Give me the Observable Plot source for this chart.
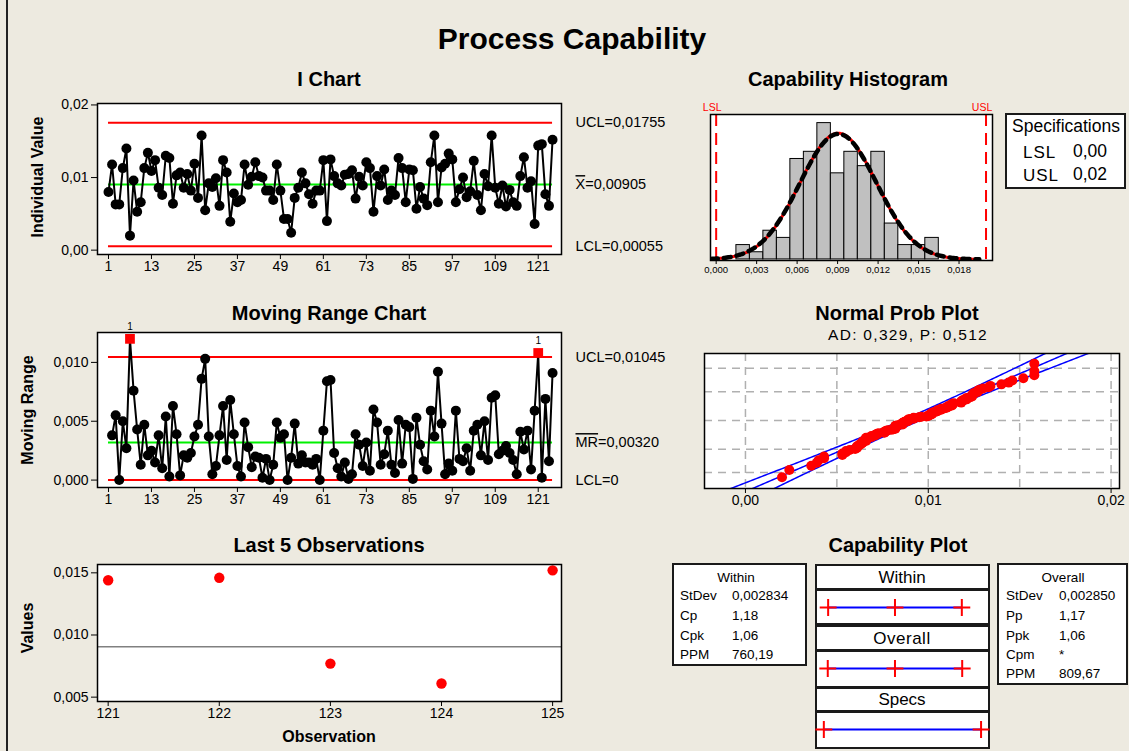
<!DOCTYPE html>
<html><head><meta charset="utf-8">
<script src="https://cdn.jsdelivr.net/npm/d3@7"></script>
<script src="https://cdn.jsdelivr.net/npm/@observablehq/plot@0.6"></script>
<style>
html,body{margin:0;padding:0;background:#EDEAE0;}
#fig{position:relative;width:1129px;height:751px;overflow:hidden;background:#EDEAE0;font-family:'Liberation Sans',Arial,sans-serif;color:#000;}
.t{position:absolute;white-space:nowrap;transform:translate(-50%,-50%);line-height:1;}
.l{position:absolute;white-space:nowrap;transform:translate(0,-50%);line-height:1;}
.b{font-weight:bold;}
.box{position:absolute;background:#fff;border:2px solid #1a1a1a;box-sizing:border-box;}
</style></head><body><div id="fig"></div>
<script>
// ---------------- DATA ----------------
const iValues = [
0.0080,0.0118,0.0063,0.0063,0.0113,0.0140,0.0020,0.0096,0.0053,0.0066,
0.0113,0.0134,0.0109,0.0124,0.0086,0.0076,0.0130,0.0127,0.0064,0.0103,
0.0107,0.0086,0.0105,0.0082,0.0119,0.0072,0.0158,0.0055,0.0092,0.0087,
0.0099,0.0061,0.0124,0.0107,0.0039,0.0078,0.0066,0.0069,0.0118,0.0090,
0.0101,0.0121,0.0102,0.0100,0.0082,0.0082,0.0069,0.0118,0.0082,0.0043,
0.0043,0.0024,0.0072,0.0086,0.0107,0.0092,0.0077,0.0064,0.0082,0.0082,
0.0124,0.0040,0.0125,0.0102,0.0092,0.0089,0.0104,0.0105,0.0110,0.0071,
0.0101,0.0089,0.0121,0.0113,0.0053,0.0102,0.0089,0.0111,0.0069,0.0082,
0.0076,0.0127,0.0113,0.0066,0.0111,0.0110,0.0057,0.0087,0.0071,0.0062,
0.0121,0.0158,0.0066,0.0114,0.0119,0.0133,0.0125,0.0066,0.0084,0.0100,
0.0073,0.0081,0.0123,0.0076,0.0055,0.0105,0.0088,0.0158,0.0086,0.0064,
0.0089,0.0060,0.0083,0.0066,0.0061,0.0102,0.0128,0.0086,0.0095,0.0036,
0.0144,0.0146,0.0077,0.0061,0.0152];
const obsTicks = [1,13,25,37,49,61,73,85,97,109,121];
const iMean = 0.00905, iUCL = 0.01755, iLCL = 0.00055;
const mrMean = 0.00320, mrUCL = 0.01045, mrLCL = 0;
const iLimitLabels = [{v:iUCL,t:"UCL=0,01755"},{v:iMean,t:"X=0,00905"},{v:iLCL,t:"LCL=0,00055"}];
const mrLimitLabels = [{v:mrUCL,t:"UCL=0,01045"},{v:mrMean,t:"MR=0,00320"},{v:mrLCL,t:"LCL=0"}];
const last5Obs = [121,122,123,124,125];
const histBinStart = [0.0015,0.0025,0.0035,0.0045,0.0055,0.0065,0.0075,0.0085,0.0095,0.0105,0.0115,0.0125,0.0135,0.0145,0.0155];
const histCounts = [2,1,4,3,14,15,19,12,15,13,15,5,2,2,3];
const binWidth = 0.001;
const histTicks = [0,0.003,0.006,0.009,0.012,0.015,0.018];
const LSL = 0, USL = 0.02;
const stdevWithin = 0.002834, stdevOverall = 0.002850;
const probGrid = [0.01,0.10,0.50,0.90,0.99];
const withinStats = [["StDev","0,002834"],["Cp","1,18"],["Cpk","1,06"],["PPM","760,19"]];
const overallStats = [["StDev","0,002850"],["Pp","1,17"],["Ppk","1,06"],["Cpm","*"],["PPM","809,67"]];
const capNames = ["Within","Overall","Specs"];

// ---------------- helpers ----------------
const fig = document.getElementById("fig");
const fmt = k => d => d.toFixed(k).replace(".", ",");
const sty = fs => ({background:"transparent",fontFamily:"'Liberation Sans', Arial, sans-serif",fontSize:fs+"px",color:"#000",overflow:"visible"});
function addSvg(svg, left, top){svg.style.position="absolute";svg.style.left=left+"px";svg.style.top=top+"px";fig.appendChild(svg);return svg;}
function addText(txt,x,y,cls,extra){const d=document.createElement("div");d.className=cls;d.textContent=txt;d.style.left=x+"px";d.style.top=y+"px";if(extra)Object.assign(d.style,extra);fig.appendChild(d);return d;}
function addBox(l,t,w,h){const d=document.createElement("div");d.className="box";Object.assign(d.style,{left:l+"px",top:t+"px",width:w+"px",height:h+"px"});fig.appendChild(d);return d;}
function overline(svg,prefix){d3.select(svg).selectAll("text").each(function(){const t=this.textContent;if(t.startsWith(prefix+"=")){const el=d3.select(this);el.text(null);el.append("tspan").style("text-decoration","overline").text(prefix);el.append("tspan").text(t.slice(prefix.length));}});}
function invNorm(p){const a=[-3.969683028665376e+01,2.209460984245205e+02,-2.759285104469687e+02,1.383577518672690e+02,-3.066479806614716e+01,2.506628277459239e+00];const b=[-5.447609879822406e+01,1.615858368580409e+02,-1.556989798598866e+02,6.680131188771972e+01,-1.328068155288572e+01];const c=[-7.784894002430293e-03,-3.223964580411365e-01,-2.400758277161838e+00,-2.549732539343734e+00,4.374664141464968e+00,2.938163982698783e+00];const d=[7.784695709041462e-03,3.224671290700398e-01,2.445134137142996e+00,3.754408661907416e+00];const pl=0.02425;let q,r;if(p<pl){q=Math.sqrt(-2*Math.log(p));return (((((c[0]*q+c[1])*q+c[2])*q+c[3])*q+c[4])*q+c[5])/((((d[0]*q+d[1])*q+d[2])*q+d[3])*q+1);}if(p<=1-pl){q=p-0.5;r=q*q;return (((((a[0]*r+a[1])*r+a[2])*r+a[3])*r+a[4])*r+a[5])*q/(((((b[0]*r+b[1])*r+b[2])*r+b[3])*r+b[4])*r+1);}q=Math.sqrt(-2*Math.log(1-p));return -(((((c[0]*q+c[1])*q+c[2])*q+c[3])*q+c[4])*q+c[5])/((((d[0]*q+d[1])*q+d[2])*q+d[3])*q+1);}
const pdf=(x,m,s)=>Math.exp(-0.5*((x-m)/s)**2)/(s*Math.sqrt(2*Math.PI));

const n = iValues.length;
const iData = iValues.map((v,i)=>({obs:i+1,v}));
const mrData = iValues.slice(1).map((v,i)=>({obs:i+2,v:Math.abs(v-iValues[i])}));
const mrIn = mrData.filter(d=>d.v<=mrUCL), mrOut = mrData.filter(d=>d.v>mrUCL);

// figure border
const bl=document.createElement("div");Object.assign(bl.style,{position:"absolute",left:"6px",top:"0px",width:"2px",height:"751px",background:"#222"});fig.appendChild(bl);

// ---------------- titles ----------------
addText("Process Capability",572,39,"t b",{fontSize:"30px"});
addText("I Chart",329,79,"t b",{fontSize:"20px"});
addText("Moving Range Chart",329,313,"t b",{fontSize:"20px"});
addText("Last 5 Observations",329,545,"t b",{fontSize:"20px"});
addText("Capability Histogram",848,79,"t b",{fontSize:"20px"});
addText("Normal Prob Plot",897,313,"t b",{fontSize:"20px"});
addText("AD: 0,329, P: 0,512",908,335,"t",{fontSize:"15.5px",letterSpacing:"1.3px"});
addText("Capability Plot",898,545,"t b",{fontSize:"20px"});
addText("Individual Value",38,177,"t b",{fontSize:"16px",transform:"translate(-50%,-50%) rotate(-90deg)"});
addText("Moving Range",28,410,"t b",{fontSize:"16px",transform:"translate(-50%,-50%) rotate(-90deg)"});
addText("Values",28,628,"t b",{fontSize:"16px",transform:"translate(-50%,-50%) rotate(-90deg)"});
addText("Observation",329,737,"t b",{fontSize:"16px"});

// ---------------- I chart ----------------
const iChart = Plot.plot({
  width:680,height:200,marginLeft:97,marginRight:119,marginTop:13,marginBottom:36,style:sty(14),
  x:{domain:[-2.07,127.5],ticks:obsTicks,tickFormat:d=>String(d),tickSize:5,tickPadding:2,label:null},
  y:{domain:[-0.0006,0.0202],ticks:[0,0.01,0.02],tickFormat:fmt(2),tickSize:6,tickPadding:3,label:null},
  marks:[
    Plot.frame({fill:"white",stroke:"none"}),
    Plot.ruleY([iUCL,iLCL],{x1:1,x2:125,stroke:"#FF0000",strokeWidth:2}),
    Plot.ruleY([iMean],{x1:1,x2:125,stroke:"#00F000",strokeWidth:2}),
    Plot.line(iData,{x:"obs",y:"v",stroke:"#000",strokeWidth:2}),
    Plot.dot(iData,{x:"obs",y:"v",r:5,fill:"#000",stroke:"none"}),
    Plot.frame({stroke:"#000",strokeWidth:1.5}),
    Plot.text(iLimitLabels,{y:"v",text:"t",frameAnchor:"right",textAnchor:"start",dx:14,fontSize:14.5})
  ]
});
overline(iChart,"X");
addSvg(iChart,0,90);

// ---------------- MR chart ----------------
const mrChart = Plot.plot({
  width:680,height:195,marginLeft:97,marginRight:119,marginTop:12,marginBottom:28,style:sty(14),
  x:{domain:[-2.07,127.5],ticks:obsTicks,tickFormat:d=>String(d),tickSize:5,tickPadding:2,label:null},
  y:{domain:[-0.00063,0.01254],ticks:[0,0.005,0.01],tickFormat:fmt(3),tickSize:6,tickPadding:3,label:null},
  marks:[
    Plot.frame({fill:"white",stroke:"none"}),
    Plot.ruleY([mrUCL,mrLCL],{x1:1,x2:125,stroke:"#FF0000",strokeWidth:2}),
    Plot.ruleY([mrMean],{x1:1,x2:125,stroke:"#00F000",strokeWidth:2}),
    Plot.line(mrData,{x:"obs",y:"v",stroke:"#000",strokeWidth:2}),
    Plot.dot(mrIn,{x:"obs",y:"v",r:5,fill:"#000",stroke:"none"}),
    Plot.dot(mrOut,{x:"obs",y:"v",symbol:"square",r:5.5,fill:"#FF0000",stroke:"none"}),
    Plot.text(mrOut,{x:"obs",y:"v",text:()=>"1",dy:-12,fontSize:10}),
    Plot.frame({stroke:"#000",strokeWidth:1.5}),
    Plot.text(mrLimitLabels,{y:"v",text:"t",frameAnchor:"right",textAnchor:"start",dx:14,fontSize:14.5})
  ]
});
overline(mrChart,"MR");
addSvg(mrChart,0,320);

// ---------------- Last 5 ----------------
const last5 = last5Obs.map((o,i)=>({obs:o,v:iValues[n-5+i]}));
const l5 = Plot.plot({
  width:680,height:201,marginLeft:97,marginRight:119,marginTop:14,marginBottom:50,style:sty(14),
  x:{domain:[120.904,125.08],ticks:last5Obs,tickFormat:d=>String(d),tickSize:5,tickPadding:2,label:null},
  y:{domain:[0.00465,0.01567],ticks:[0.005,0.01,0.015],tickFormat:fmt(3),tickSize:6,tickPadding:3,label:null},
  marks:[
    Plot.frame({fill:"white",stroke:"none"}),
    Plot.ruleY([iMean],{stroke:"#808080",strokeWidth:1.5}),
    Plot.dot(last5,{x:"obs",y:"v",r:5.2,fill:"#FF0000",stroke:"none"}),
    Plot.frame({stroke:"#000",strokeWidth:1.5})
  ]
});
addSvg(l5,0,550);

// ---------------- Capability Histogram ----------------
const histData = histBinStart.map((s,i)=>({lo:s,hi:s+binWidth,count:histCounts[i]}));
const xs = d3.range(-0.0004,0.01951,0.0001);
const withinCurve = xs.map(x=>({x,y:n*binWidth*pdf(x,iMean,stdevWithin)}));
const overallCurve = xs.map(x=>({x,y:n*binWidth*pdf(x,iMean,stdevOverall)}));
const specLabels = [{x:LSL,t:"LSL"},{x:USL,t:"USL"}];
const hist = Plot.plot({
  width:310,height:190,marginLeft:20,marginRight:8,marginTop:19,marginBottom:25,style:sty(9.5),
  x:{domain:[-0.00042,0.02048],ticks:histTicks,tickFormat:fmt(3),tickSize:4,tickPadding:2,label:null},
  y:{domain:[-0.15,20.2],axis:null},
  marks:[
    Plot.frame({fill:"white",stroke:"none"}),
    Plot.rectY(histData,{x1:"lo",x2:"hi",y:"count",fill:"#C0C0C0",stroke:"#000",strokeWidth:1,inset:0}),
    Plot.ruleX([LSL,USL],{stroke:"#FF0000",strokeWidth:2,strokeDasharray:"12,7"}),
    Plot.line(withinCurve,{x:"x",y:"y",stroke:"#FF0000",strokeWidth:3,clip:true}),
    Plot.line(overallCurve,{x:"x",y:"y",stroke:"#000",strokeWidth:4.5,strokeDasharray:"7,6",clip:true}),
    Plot.frame({stroke:"#000",strokeWidth:1.5}),
    Plot.text(specLabels,{x:"x",text:"t",frameAnchor:"top",dy:-11,dx:-4,fill:"#FF0000",fontSize:10.5})
  ]
});
addSvg(hist,690,95);

// Specifications box
addBox(1005,113,121,76);
addText("Specifications",1012,127,"l",{fontSize:"17.5px"});
addText("LSL",1023,152,"l",{fontSize:"17px",letterSpacing:"1px"});
addText("0,00",1073,152,"l",{fontSize:"17.5px"});
addText("USL",1023,175,"l",{fontSize:"17px",letterSpacing:"1px"});
addText("0,02",1073,175,"l",{fontSize:"17.5px"});

// ---------------- Normal Prob Plot ----------------
const sorted = [...iValues].sort(d3.ascending);
const npData = sorted.map((v,i)=>({v,z:invNorm((i+1-0.3)/(n+0.4))}));
const gridZ = probGrid.map(invNorm);
const zs = d3.range(-3.4,3.41,0.05);
const bandData = zs.flatMap(z=>{const fit=iMean+z*stdevOverall;const h=1.96*stdevOverall*Math.sqrt(1/n+z*z/(2*(n-1)));return [{k:"lo",z,x:fit-h},{k:"fit",z,x:fit},{k:"hi",z,x:fit+h}];});
const np = Plot.plot({
  width:440,height:175,marginLeft:14,marginRight:11,marginTop:13,marginBottom:27,style:sty(14),
  x:{domain:[-0.00224,0.02046],ticks:[0,0.01,0.02],tickFormat:fmt(2),tickSize:5,tickPadding:2,label:null},
  y:{domain:[-3.04,2.99],axis:null},
  marks:[
    Plot.frame({fill:"white",stroke:"none"}),
    Plot.ruleX([0,0.005,0.01,0.015,0.02],{stroke:"#B0B0B0",strokeWidth:1.5,strokeDasharray:"8,6"}),
    Plot.ruleY(gridZ,{stroke:"#B0B0B0",strokeWidth:1.5,strokeDasharray:"8,6"}),
    Plot.line(bandData,{x:"x",y:"z",z:"k",stroke:"#0000FF",strokeWidth:1.5,clip:true}),
    Plot.dot(npData,{x:"v",y:"z",r:5,fill:"#FF0000",stroke:"none"}),
    Plot.frame({stroke:"#000",strokeWidth:1.5})
  ]
});
addSvg(np,690,340);

// ---------------- Capability Plot ----------------
addBox(672,563,135,103);
addText("Within",736,578,"t",{fontSize:"13.5px"});
withinStats.forEach((r,i)=>{const y=[596,616,636,655][i];addText(r[0],680,y,"l",{fontSize:"13.5px"});addText(r[1],732,y,"l",{fontSize:"13.5px"});});
addBox(997,563,131,122);
addText("Overall",1063,578,"t",{fontSize:"13.5px"});
overallStats.forEach((r,i)=>{const y=[596,616,636,655,674][i];addText(r[0],1006,y,"l",{fontSize:"13.5px"});addText(r[1],1059,y,"l",{fontSize:"13.5px"});});
[[564,26],[589,36],[625,26],[650,38],[687,25],[711,38]].forEach(([t,h])=>addBox(815,t,175,h));
addText("Within",902,577,"t",{fontSize:"17px"});
addText("Overall",902,638,"t",{fontSize:"17px",letterSpacing:"0.5px"});
addText("Specs",902,699,"t",{fontSize:"17px"});
const capRows = [
  {name:"Within",lo:iMean-3*stdevWithin,mid:iMean,hi:iMean+3*stdevWithin},
  {name:"Overall",lo:iMean-3*stdevOverall,mid:iMean,hi:iMean+3*stdevOverall},
  {name:"Specs",lo:LSL,mid:null,hi:USL}];
const capTicks = capRows.flatMap(r=>[r.lo,r.mid,r.hi].filter(v=>v!==null).map(x=>({name:r.name,x})));
const cap = Plot.plot({
  width:175,height:160,marginLeft:0,marginRight:0,marginTop:0,marginBottom:0,style:sty(12),
  x:{domain:[-0.00106,0.0212],axis:null},
  y:{type:"point",domain:capNames,range:[17.7,141],padding:0,axis:null},
  marks:[
    Plot.ruleY(capRows,{y:"name",x1:"lo",x2:"hi",stroke:"#0000FF",strokeWidth:2}),
    Plot.dot(capTicks,{x:"x",y:"name",symbol:"plus",r:5.5,stroke:"#FF0000",strokeWidth:2})
  ]
});
addSvg(cap,815,589);
</script></body></html>
